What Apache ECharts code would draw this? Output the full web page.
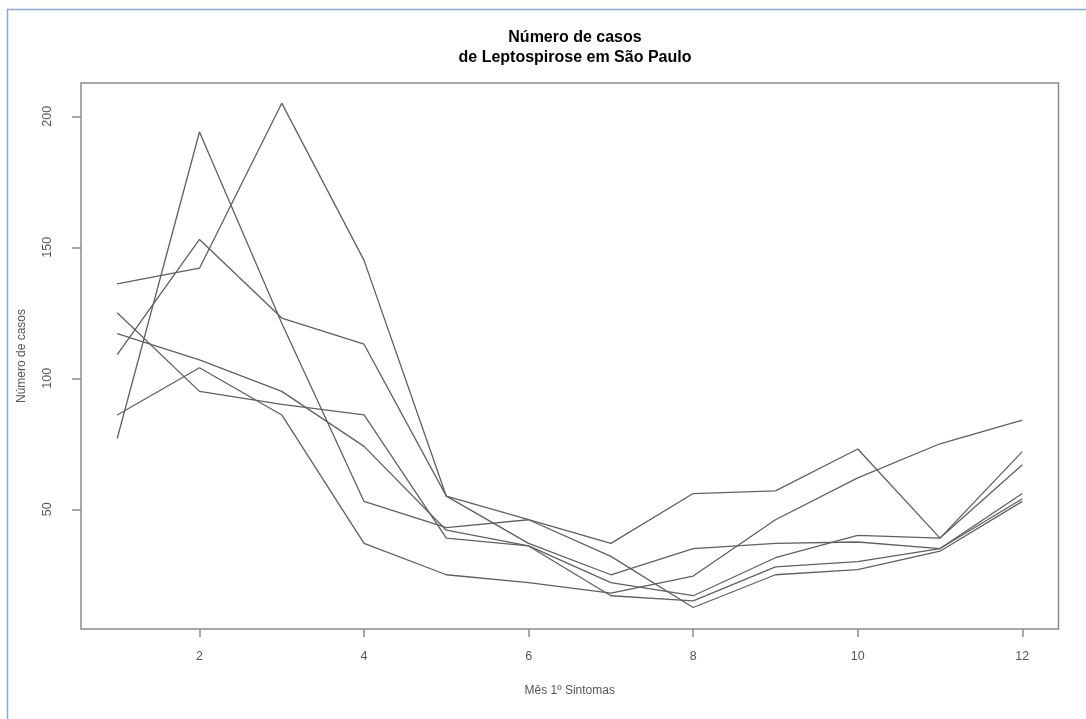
<!DOCTYPE html>
<html>
<head>
<meta charset="utf-8">
<script src="https://cdn.jsdelivr.net/npm/echarts@6/dist/echarts.min.js"></script>
<style>
  html, body { margin: 0; padding: 0; background: #fff; }
  #chart { width: 1086px; height: 719px; }
</style>
</head>
<body>
<div id="chart"></div>
<script>
  // mês dos primeiros sintomas
  const months = [1, 2, 3, 4, 5, 6, 7, 8, 9, 10, 11, 12];

  // uma linha por ano
  const serie1 = [136, 142, 205, 145, 55, 46, 37, 56, 57, 73, 39, 72];
  const serie2 = [109, 153, 123, 113, 55, 37, 25, 35, 37, 37.5, 35, 56];
  const serie3 = [86, 104, 86, 37, 25, 22, 18, 24.5, 46, 62, 75, 84];
  const serie4 = [77, 194, 121, 53, 43, 46, 32, 12.5, 25, 27, 34, 53];
  const serie5 = [125, 95, 90, 86, 39, 36, 22, 17, 31.5, 40, 39, 67];
  const serie6 = [117, 107, 95, 74, 42, 36, 17, 15, 28, 30, 35, 54];

  const xTicks = [2, 4, 6, 8, 10, 12];
  const yTicks = [50, 100, 150, 200];

  const allSeries = [serie1, serie2, serie3, serie4, serie5, serie6];

  const chart = echarts.init(document.getElementById('chart'), null, { renderer: 'canvas' });

  const font = '"Liberation Sans", Arial, sans-serif';

  chart.setOption({
    animation: false,
    backgroundColor: '#fff',
    title: {
      text: 'Número de casos\nde Leptospirose em São Paulo',
      left: 570,
      top: 23,
      textAlign: 'center',
      textStyle: { fontFamily: font, fontSize: 16, fontWeight: 'bold', color: '#000', lineHeight: 20 }
    },
    graphic: [{
      type: 'rect',
      shape: { x: 7.5, y: 9.5, width: 1100, height: 800 },
      style: { fill: 'none', stroke: '#86a5d9', lineWidth: 1.5 },
      silent: true
    }],
    grid: {
      left: 81, top: 83, right: 27.5, bottom: 90,
      show: true, borderColor: '#8c8c8c', borderWidth: 1.5
    },
    xAxis: {
      type: 'value',
      min: 0.56, max: 12.44,
      name: 'Mês 1º Sintomas',
      nameLocation: 'middle',
      nameGap: 56,
      nameTextStyle: { fontFamily: font, fontSize: 12, color: '#555' },
      axisLine: { show: false },
      splitLine: { show: false },
      axisTick: { show: true, customValues: xTicks, length: 8, lineStyle: { color: '#8c8c8c', width: 1.5 } },
      axisLabel: { customValues: xTicks, margin: 21, fontFamily: font, fontSize: 12.5, color: '#555' }
    },
    yAxis: {
      type: 'value',
      min: 4.3, max: 212.7,
      name: 'Número de casos',
      nameLocation: 'middle',
      nameRotate: 90,
      nameGap: 53,
      nameTextStyle: { fontFamily: font, fontSize: 12, color: '#555' },
      axisLine: { show: false },
      splitLine: { show: false },
      axisTick: { show: true, customValues: yTicks, length: 9, lineStyle: { color: '#8c8c8c', width: 1.5 } },
      axisLabel: { customValues: yTicks, rotate: 90, margin: 27, fontFamily: font, fontSize: 12.5, color: '#555' }
    },
    series: allSeries.map((vals, i) => ({
      name: 'serie' + (i + 1),
      type: 'line',
      data: months.map((m, j) => [m, vals[j]]),
      showSymbol: false,
      symbol: 'none',
      lineStyle: { color: '#606060', width: 1.3 }
    }))
  });
</script>
</body>
</html>
